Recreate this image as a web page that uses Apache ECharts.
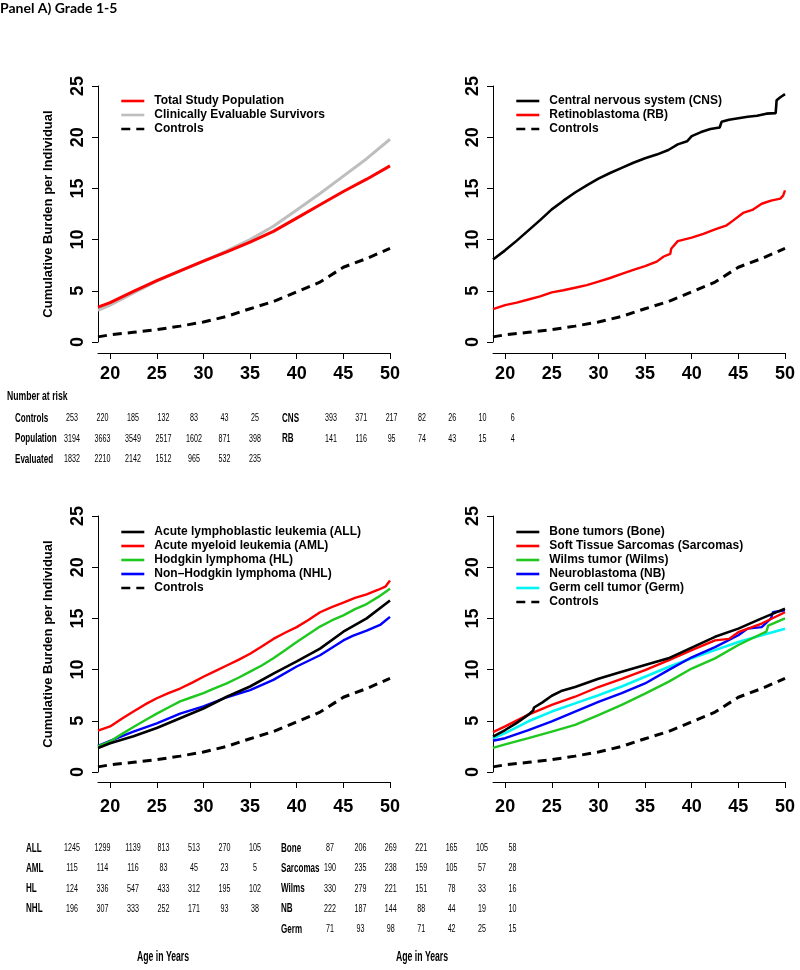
<!DOCTYPE html>
<html>
<head>
<meta charset="utf-8">
<script src="https://cdn.jsdelivr.net/npm/echarts@6/dist/echarts.min.js"></script>
<style>html,body{margin:0;padding:0;background:#fff}#c{width:800px;height:970px}</style>
</head>
<body>
<div id="c"></div>
<script>
// ---------- data: [age, cumulative burden] ----------
const controls = [[18.7,0.5],[20,0.7],[22.5,0.95],[25,1.2],[27.5,1.55],[30,1.95],[32.5,2.5],[35,3.25],[37.5,3.95],[40,4.9],[42.5,5.85],[45,7.3],[47.5,8.15],[50,9.15]];

const totalPop = [[18.7,3.4],[20,3.85],[22.5,4.95],[25,6.0],[27.5,6.95],[30,7.9],[32.5,8.8],[35,9.75],[37.5,10.8],[40,12.1],[42.5,13.4],[45,14.7],[47.5,15.9],[50,17.2]];
const evaluable = [[18.7,3.1],[20,3.6],[22.5,4.8],[25,5.95],[27.5,6.95],[30,7.9],[32.5,8.9],[35,10.0],[37.5,11.3],[40,12.9],[42.5,14.5],[45,16.2],[47.5,17.9],[50,19.8]];

const cns = [[18.7,8.05],[20,8.95],[21.25,9.9],[22.5,10.9],[23.75,11.9],[25,12.95],[26.25,13.8],[27.5,14.6],[28.75,15.3],[30,15.95],[31.25,16.5],[32.5,17.0],[33.75,17.5],[35,17.95],[36.25,18.3],[37.5,18.75],[38.5,19.3],[39.5,19.6],[40,20.1],[41,20.5],[42,20.8],[43,20.95],[43.2,21.5],[44,21.7],[45,21.85],[46,22.0],[47,22.1],[48,22.3],[49,22.35],[49.1,23.6],[49.5,23.9],[50,24.2]];
const rb = [[18.7,3.2],[20,3.6],[21.25,3.85],[22.5,4.15],[23.75,4.45],[25,4.85],[26.25,5.05],[27.5,5.3],[28.75,5.55],[30,5.9],[31.25,6.25],[32.5,6.65],[33.75,7.05],[35,7.4],[36.25,7.85],[37,8.35],[37.7,8.6],[37.8,9.1],[38.5,9.85],[40,10.2],[41.25,10.55],[42.5,11.0],[43.75,11.4],[44.5,11.9],[45.5,12.6],[46.5,12.9],[47.5,13.5],[48.5,13.8],[49.5,14.0],[49.8,14.3],[50,14.8]];

const all = [[18.7,2.35],[20,2.8],[22.5,3.5],[25,4.3],[27.5,5.25],[30,6.2],[32.5,7.35],[35,8.35],[37.5,9.6],[40,10.8],[42.5,12.05],[45,13.7],[47.5,15.0],[50,16.75]];
const aml = [[18.7,4.05],[20,4.45],[21.25,5.2],[22.5,5.9],[23.75,6.6],[25,7.2],[26.25,7.7],[27.5,8.15],[28.75,8.7],[30,9.3],[31.25,9.85],[32.5,10.4],[33.75,10.95],[35,11.55],[36.25,12.25],[37.5,13.0],[38.75,13.6],[40,14.15],[41.25,14.85],[42.5,15.6],[43.75,16.1],[45,16.55],[46.25,17.0],[47.5,17.35],[48.75,17.8],[49.5,18.1],[50,18.7]];
const hl = [[18.7,2.5],[20,3.0],[21.25,3.7],[22.5,4.4],[23.75,5.05],[25,5.7],[26.25,6.3],[27.5,6.9],[28.75,7.3],[30,7.7],[31.25,8.2],[32.5,8.65],[33.75,9.2],[35,9.8],[36.25,10.4],[37.5,11.1],[38.75,11.9],[40,12.7],[41.25,13.45],[42.5,14.2],[43.75,14.8],[45,15.3],[46.25,15.9],[47.5,16.4],[48.75,17.1],[50,17.9]];
const nhl = [[18.7,2.55],[20,3.05],[22.5,3.95],[25,4.75],[27.5,5.7],[30,6.4],[32.5,7.3],[35,8.0],[37.5,9.0],[40,10.3],[42.5,11.4],[45,12.85],[46,13.3],[47.5,13.8],[49,14.4],[50,15.15]];

const bone = [[18.7,3.45],[20,4.1],[21.25,4.8],[22.5,5.6],[23,6.0],[23.1,6.3],[24,6.8],[25,7.45],[26,7.9],[27.5,8.3],[30,9.1],[32.5,9.8],[35,10.45],[37.5,11.1],[40,12.15],[42.5,13.2],[45,14.0],[47.5,15.0],[50,15.95]];
const sarcomas = [[18.7,3.9],[20,4.45],[22.5,5.6],[25,6.55],[27.5,7.35],[30,8.3],[32.5,9.1],[35,9.95],[37.5,10.9],[40,11.9],[42.5,12.85],[44,13.0],[45,13.65],[47.5,14.5],[50,15.6]];
const wilms = [[18.7,2.35],[20,2.7],[22.5,3.3],[25,3.95],[27.5,4.6],[30,5.55],[32.5,6.55],[35,7.65],[37.5,8.8],[40,10.1],[42.5,11.1],[45,12.4],[47.5,13.5],[48,13.7],[48.2,14.3],[50,15.0]];
const nb = [[18.7,3.05],[20,3.3],[22.5,4.1],[25,4.95],[27.5,5.9],[30,6.85],[32.5,7.7],[35,8.65],[37.5,9.95],[40,11.2],[42.5,12.2],[45,13.35],[46,14.0],[47.5,14.15],[48.5,15.0],[48.7,15.6],[50,15.8]];
const germ = [[18.7,3.3],[20,3.8],[22.5,4.95],[25,5.9],[27.5,6.7],[30,7.5],[32.5,8.35],[35,9.3],[37.5,10.25],[40,11.1],[42.5,11.9],[45,12.7],[47.5,13.35],[50,14.0]];

// ---------- tick labels ----------
const xTicks = [20,25,30,35,40,45,50];

// ---------- number at risk ----------
const riskTopLeftLabels = ['Controls','Population','Evaluated'];
const riskControls = [253,220,185,132,83,43,25];
const riskPopulation = [3194,3663,3549,2517,1602,871,398];
const riskEvaluated = [1832,2210,2142,1512,965,532,235];
const riskTopRightLabels = ['CNS','RB'];
const riskCNS = [393,371,217,82,26,10,6];
const riskRB = [141,116,95,74,43,15,4];
const riskBottomLeftLabels = ['ALL','AML','HL','NHL'];
const riskALL = [1245,1299,1139,813,513,270,105];
const riskAML = [115,114,116,83,45,23,5];
const riskHL = [124,336,547,433,312,195,102];
const riskNHL = [196,307,333,252,171,93,38];
const riskBottomRightLabels = ['Bone','Sarcomas','Wilms','NB','Germ'];
const riskBone = [87,206,269,221,165,105,58];
const riskSarcomas = [190,235,238,159,105,57,28];
const riskWilms = [330,279,221,151,78,33,16];
const riskNB = [222,187,144,88,44,19,10];
const riskGerm = [71,93,98,71,42,25,15];

// ---------- chart ----------
const FONT = "'Liberation Sans', Arial, Helvetica, sans-serif";
const chart = echarts.init(document.getElementById('c'), null, {renderer:'canvas'});

const grids = [
  {left:98, top:86, width:292, height:256},
  {left:493, top:86, width:292, height:256},
  {left:98, top:516, width:292, height:256},
  {left:493, top:516, width:292, height:256}
];
const xOffsets = [11,11,10,10];
const xMargins = [12,12,16,16];

const xAxes = grids.map((g,i)=>({
  type:'value', gridIndex:i, min:18.7, max:50, offset:xOffsets[i],
  axisLine:{show:true, onZero:false, lineStyle:{color:'#000', width:1}},
  axisTick:{show:true, customValues:xTicks, length:6, lineStyle:{color:'#000'}},
  axisLabel:{show:true, customValues:xTicks, fontSize:18, fontWeight:'bold', fontFamily:FONT, color:'#000', margin:xMargins[i]},
  splitLine:{show:false}
}));
const yAxes = grids.map((g,i)=>({
  type:'value', gridIndex:i, min:0, max:25, interval:5,
  name: (i%2===0) ? 'Cumulative Burden per Individual' : '',
  nameLocation:'middle', nameRotate:90, nameGap:43,
  nameTextStyle:{fontSize:13, fontWeight:'bold', fontFamily:FONT, color:'#000'},
  axisLine:{show:true, lineStyle:{color:'#000', width:1}},
  axisTick:{show:true, length:6, lineStyle:{color:'#000'}},
  axisLabel:{rotate:90, fontSize:18, fontWeight:'bold', fontFamily:FONT, color:'#000', margin:11},
  splitLine:{show:false}
}));

function ln(name, data, color, idx, width){
  return {type:'line', name, data, xAxisIndex:idx, yAxisIndex:idx, symbol:'none', showSymbol:false,
    silent:true, animation:false, lineStyle:{color, width: width||2.6}, itemStyle:{color}};
}
function ctl(idx){
  return {type:'line', name:'Controls', data:controls, xAxisIndex:idx, yAxisIndex:idx, symbol:'none', showSymbol:false,
    silent:true, animation:false, lineStyle:{color:'#000', width:3, type:[9,6]}, itemStyle:{color:'#000'}};
}

const RED='#ff0000', GRAY='#bebebe', GREEN='#1ec81e', BLUE='#0000ff', CYAN='#00f5f5', BLACK='#000000';

const series = [
  ctl(0),
  ln('Clinically Evaluable Survivors', evaluable, GRAY, 0, 3),
  ln('Total Study Population', totalPop, RED, 0, 3),
  ctl(1),
  ln('Retinoblastoma (RB)', rb, RED, 1, 2.4),
  ln('Central nervous system (CNS)', cns, BLACK, 1, 2.6),
  ctl(2),
  ln('Non\u2013Hodgkin lymphoma (NHL)', nhl, BLUE, 2, 2.4),
  ln('Hodgkin lymphoma (HL)', hl, GREEN, 2, 2.4),
  ln('Acute myeloid leukemia (AML)', aml, RED, 2, 2.4),
  ln('Acute lymphoblastic leukemia (ALL)', all, BLACK, 2, 2.6),
  ctl(3),
  ln('Germ cell tumor (Germ)', germ, CYAN, 3, 2.6),
  ln('Wilms tumor (Wilms)', wilms, GREEN, 3, 2.4),
  ln('Neuroblastoma (NB)', nb, BLUE, 3, 2.4),
  ln('Soft Tissue Sarcomas (Sarcomas)', sarcomas, RED, 3, 2.4),
  ln('Bone tumors (Bone)', bone, BLACK, 3, 2.6)
];

function legend(left, top, names){
  return {orient:'vertical', left, top, padding:0, itemWidth:23, itemHeight:14, itemGap:2,
    selectedMode:false, data:names,
    itemStyle:{opacity:0},
    lineStyle:{width:2.6},
    textStyle:{fontSize:12, fontWeight:'bold', fontFamily:FONT, color:'#000', padding:[0,0,0,5]}};
}

const legends = [
  legend(120, 95, ['Total Study Population','Clinically Evaluable Survivors','Controls']),
  legend(515, 95, ['Central nervous system (CNS)','Retinoblastoma (RB)','Controls']),
  legend(120, 526, ['Acute lymphoblastic leukemia (ALL)','Acute myeloid leukemia (AML)','Hodgkin lymphoma (HL)','Non\u2013Hodgkin lymphoma (NHL)','Controls']),
  legend(515, 526, ['Bone tumors (Bone)','Soft Tissue Sarcomas (Sarcomas)','Wilms tumor (Wilms)','Neuroblastoma (NB)','Germ cell tumor (Germ)','Controls'])
];

// ---------- number-at-risk tables (text) ----------
const SX = 0.62;
const graphics = [];
function txt(x, y, text, size, weight, align){
  graphics.push({type:'text', x, y, scaleX:SX, silent:true,
    style:{text:String(text), fontSize:size, fontWeight:weight, fontFamily:FONT, fill:'#000', align:align, verticalAlign:'middle'}});
}
function table(labelX, colX0, colStep, rowY0, rowStep, labels, rows){
  labels.forEach((lab, r)=>{
    const y = rowY0 + r*rowStep;
    txt(labelX, y, lab, 13, 'bold', 'left');
    rows[r].forEach((v, c)=> txt(colX0 + c*colStep, y, v, 11.5, 'normal', 'center'));
  });
}
graphics.push({type:'text', x:7, y:397, scaleX:0.72, silent:true,
  style:{text:'Number at risk', fontSize:12, fontWeight:'bold', fontFamily:FONT, fill:'#000', align:'left', verticalAlign:'middle'}});
table(15, 72, 30.5, 418, 20.5, riskTopLeftLabels, [riskControls, riskPopulation, riskEvaluated]);
table(282, 331, 30.3, 418, 20.5, riskTopRightLabels, [riskCNS, riskRB]);
table(26, 72, 30.5, 848, 20.3, riskBottomLeftLabels, [riskALL, riskAML, riskHL, riskNHL]);
table(281, 330, 30.4, 848, 20.3, riskBottomRightLabels, [riskBone, riskSarcomas, riskWilms, riskNB, riskGerm]);
txt(163, 957, 'Age in Years', 14, 'bold', 'center');
txt(422, 957, 'Age in Years', 14, 'bold', 'center');

chart.setOption({
  animation:false,
  backgroundColor:'#fff',
  title:{text:'Panel A) Grade 1-5', left:0, top:1, padding:0,
    textStyle:{fontFamily:'Lato', fontWeight:'bold', fontSize:14, color:'#000'}},
  grid: grids,
  xAxis: xAxes,
  yAxis: yAxes,
  legend: legends,
  series: series,
  graphic: graphics
});
</script>
</body>
</html>
